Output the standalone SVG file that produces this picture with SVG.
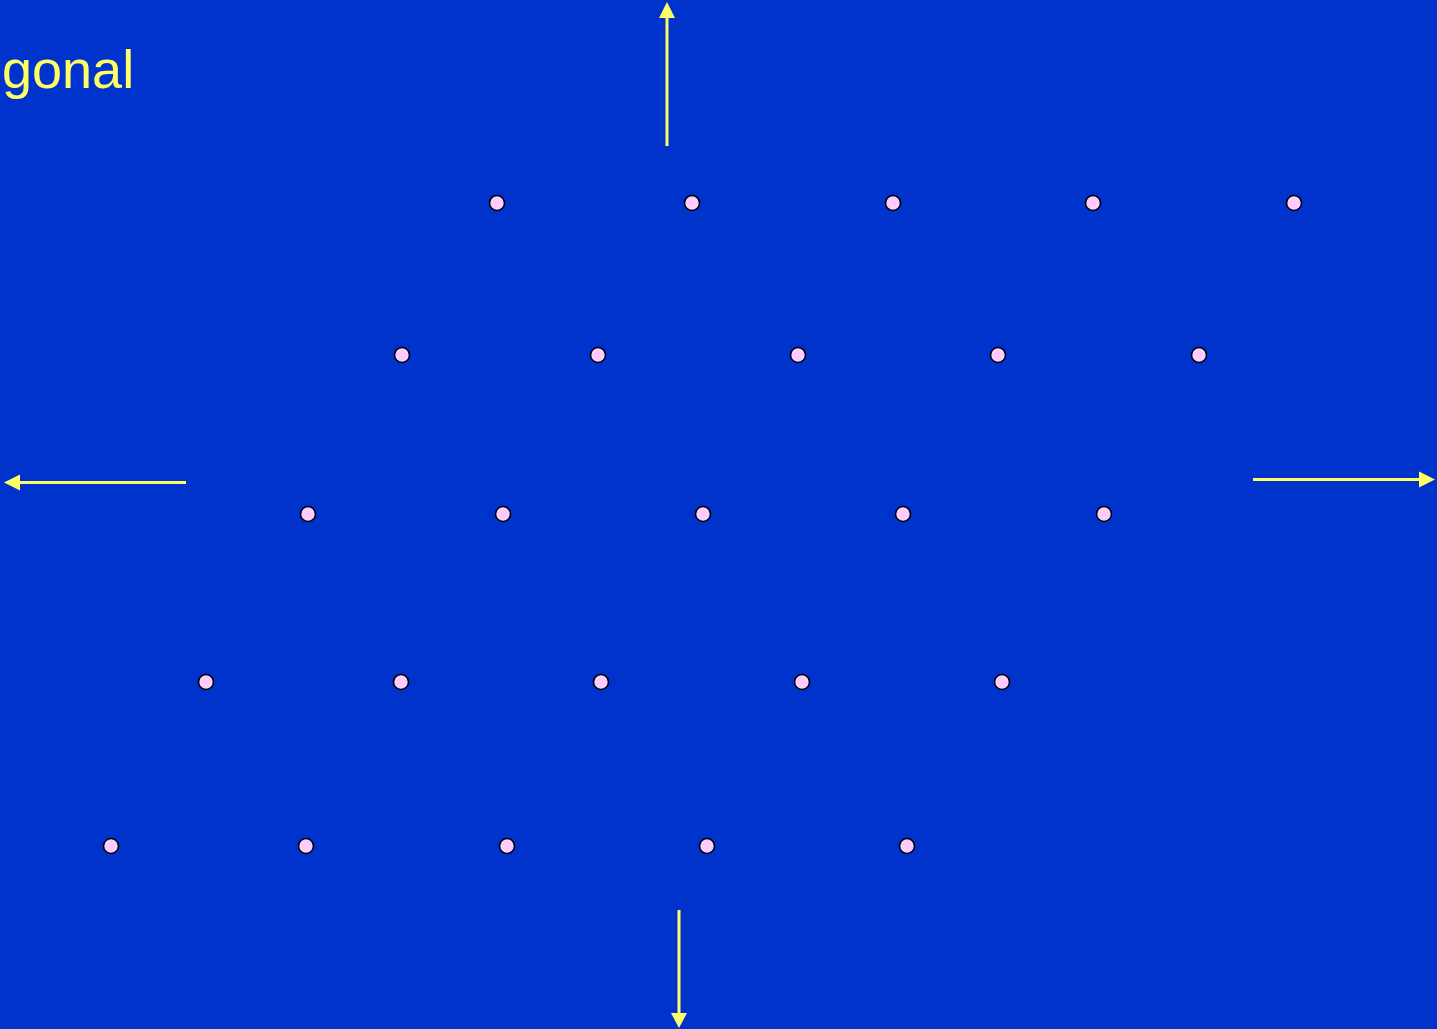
<svg xmlns="http://www.w3.org/2000/svg" width="1437" height="1029" viewBox="0 0 1437 1029">
<style>
.pt{fill:#FFCCFF;stroke:#000;stroke-width:1.6}
.ax{stroke:#FFFF66;stroke-width:3;fill:none}
.hd{fill:#FFFF66}
.lbl{font-family:"Liberation Sans",Arial,sans-serif;font-size:54px;fill:#FFFF66}
</style>
<rect x="0" y="0" width="1437" height="1029" fill="#0033CC"/>
<text class="lbl" x="2" y="88">gonal</text>
<g id="connectors">
<line class="ax" x1="667" y1="146" x2="667" y2="14"/>
<polygon class="hd" points="667,2 659,18 675,18"/>
<line class="ax" x1="186" y1="482.5" x2="16" y2="482.5"/>
<polygon class="hd" points="4,482.5 20,474.5 20,490.5"/>
<line class="ax" x1="1253" y1="479.5" x2="1424" y2="479.5"/>
<polygon class="hd" points="1435,479.5 1419,471.5 1419,487.5"/>
<line class="ax" x1="679" y1="910" x2="679" y2="1016"/>
<polygon class="hd" points="679,1028 671,1013 687,1013"/>
</g>
<g id="r1">
<circle id="p1" class="pt" cx="497" cy="203" r="7.5"/>
<circle id="p2" class="pt" cx="692" cy="203" r="7.5"/>
<circle id="p3" class="pt" cx="893" cy="203" r="7.5"/>
<circle id="p4" class="pt" cx="1093" cy="203" r="7.5"/>
<circle id="p5" class="pt" cx="1294" cy="203" r="7.5"/>
</g>
<g id="r2">
<circle id="p6" class="pt" cx="402" cy="355" r="7.5"/>
<circle id="p7" class="pt" cx="598" cy="355" r="7.5"/>
<circle id="p8" class="pt" cx="798" cy="355" r="7.5"/>
<circle id="p9" class="pt" cx="998" cy="355" r="7.5"/>
<circle id="p10" class="pt" cx="1199" cy="355" r="7.5"/>
</g>
<g id="r3">
<circle id="p11" class="pt" cx="308" cy="514" r="7.5"/>
<circle id="p12" class="pt" cx="503" cy="514" r="7.5"/>
<circle id="p13" class="pt" cx="703" cy="514" r="7.5"/>
<circle id="p14" class="pt" cx="903" cy="514" r="7.5"/>
<circle id="p15" class="pt" cx="1104" cy="514" r="7.5"/>
</g>
<g id="r4">
<circle id="p16" class="pt" cx="206" cy="682" r="7.5"/>
<circle id="p17" class="pt" cx="401" cy="682" r="7.5"/>
<circle id="p18" class="pt" cx="601" cy="682" r="7.5"/>
<circle id="p19" class="pt" cx="802" cy="682" r="7.5"/>
<circle id="p20" class="pt" cx="1002" cy="682" r="7.5"/>
</g>
<g id="r5">
<circle id="p21" class="pt" cx="111" cy="846" r="7.5"/>
<circle id="p22" class="pt" cx="306" cy="846" r="7.5"/>
<circle id="p23" class="pt" cx="507" cy="846" r="7.5"/>
<circle id="p24" class="pt" cx="707" cy="846" r="7.5"/>
<circle id="p25" class="pt" cx="907" cy="846" r="7.5"/>
</g>
</svg>
